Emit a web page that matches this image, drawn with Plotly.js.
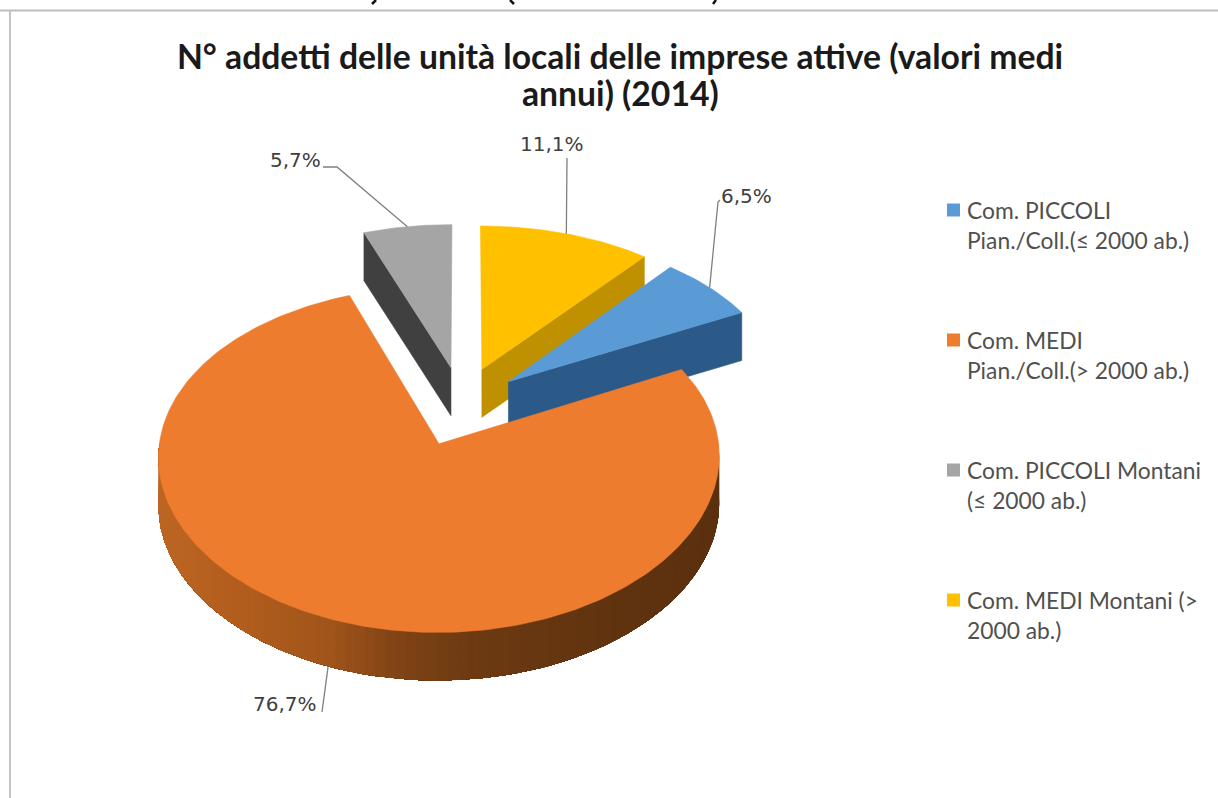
<!DOCTYPE html>
<html>
<head>
<meta charset="utf-8">
<title>N° addetti delle unità locali</title>
<script src="https://cdn.plot.ly/plotly-3.0.1.min.js"></script>
<style>
  html, body { margin: 0; padding: 0; background: #fff; overflow: hidden; }
  #chart { width: 1218px; height: 798px; }
</style>
</head>
<body>
<div id="chart"></div>
<script>
// Share of employees per municipality class, in the chart's slice order.
const categories = [
  ["Com. PICCOLI", "Pian./Coll.(≤ 2000 ab.)"],
  ["Com. MEDI", "Pian./Coll.(> 2000 ab.)"],
  ["Com. PICCOLI Montani", "(≤ 2000 ab.)"],
  ["Com. MEDI Montani (>", "2000 ab.)"]
];
const shares = [6.5, 76.7, 5.7, 11.1];
const shareLabels = ["6,5%", "76,7%", "5,7%", "11,1%"];
const topColors = ["#5b9bd5", "#ee7c2f", "#a5a5a5", "#ffc000"];
const sideColors = ["#2c5a88", "#9c5219", "#404040", "#bf9000"];
const titleLines = ["N° addetti delle unità locali delle imprese attive (valori medi", "annui) (2014)"];

// Pie rotation: the first slice starts right after the last one's share.
const firstSliceDeg = 40;

// Projection of the tilted disc on the page.
const C = {
  x: 461.5, y: 406, rx: 275, ry: 166,
  perspX: 0.075, perspY: 0.094,
  explodeU: 0.22, explodeV: 0.24, depth: 48
};

function project(u, v) {
  return [C.x + C.rx * u * (1 + C.perspX * v), C.y + C.ry * v * (1 + C.perspY * v)];
}
const rad = d => d * Math.PI / 180;

// Angular extent of every slice, clockwise from twelve o'clock.
const slices = [];
let cursor = firstSliceDeg;
shares.forEach((p, i) => {
  const sweep = p / 100 * 360;
  const mid = cursor + sweep / 2;
  slices.push({
    i, start: cursor, end: cursor + sweep, mid,
    cu: C.explodeU * Math.sin(rad(mid)),
    cv: -C.explodeV * Math.cos(rad(mid))
  });
  cursor += sweep;
});

const rimPoint = (s, a) => project(s.cu + Math.sin(rad(a)), s.cv - Math.cos(rad(a)));
const apexPoint = s => project(s.cu, s.cv);

function face(points, color, edge) {
  const closed = points.concat([points[0]]);
  return {
    type: "scatter", mode: "lines", fill: "toself", fillcolor: color,
    x: closed.map(p => p[0]), y: closed.map(p => p[1]),
    line: { color: color, width: edge },
    hoverinfo: "skip", showlegend: false
  };
}
const lowered = p => [p[0], p[1] + C.depth];

function arc(s, from, to, steps) {
  const pts = [];
  for (let k = 0; k <= steps; k++) pts.push(rimPoint(s, from + (to - from) * k / steps));
  return pts;
}

// Flat side showing one radial cut of a slice.
function cutFace(s, a) {
  const ap = apexPoint(s), e = rimPoint(s, a);
  return face([ap, e, lowered(e), lowered(ap)], sideColors[s.i], 0.6);
}

// Shading of the orange outer wall, dark towards the right of the page.
const rimStops = [
  [160, [189, 101, 35]], [250, [176, 92, 29]], [330, [160, 84, 26]],
  [400, [127, 67, 21]], [470, [109, 58, 18]], [600, [97, 52, 15]], [716, [91, 48, 15]]
];
function rimColor(x) {
  for (let k = 1; k < rimStops.length; k++) {
    if (x <= rimStops[k][0] || k === rimStops.length - 1) {
      const [x0, c0] = rimStops[k - 1], [x1, c1] = rimStops[k];
      const t = Math.max(0, Math.min(1, (x - x0) / (x1 - x0)));
      return "rgb(" + c0.map((c, j) => Math.round(c + (c1[j] - c) * t)).join(",") + ")";
    }
  }
}
// Wall strips are painted in order along the rim, each reaching under the
// next one so that no seam shows between them.
function rimFaces(s, from, to, steps) {
  const out = [];
  const ang = k => from + (to - from) * k / steps;
  for (let k = 0; k < steps; k++) {
    const strip = arc(s, ang(k), to, steps - k);
    const mid = rimPoint(s, ang(k + 0.5));
    out.push(face(strip.concat(strip.map(lowered).reverse()), rimColor(mid[0]), 0));
  }
  return out;
}
function topFace(s) {
  return face([apexPoint(s)].concat(arc(s, s.start, s.end, Math.ceil(s.end - s.start))), topColors[s.i], 0.6);
}

const [blue, orange, grey, yellow] = slices;
const traces = [
  cutFace(grey, grey.start), topFace(grey),
  cutFace(yellow, yellow.end), topFace(yellow),
  cutFace(blue, blue.end), topFace(blue),
  ...rimFaces(orange, 90, 270, 90), topFace(orange)
];

// Leader lines run from each slice's rim, at its middle angle, to its label.
const leaderColor = "#7f7f7f";
const leaderBends = [
  [[720, 200], [718, 202]],
  [[322, 712]],
  [[323, 167], [337, 167]],
  [[567, 158]]
];
slices.forEach((s, i) => {
  const rim = rimPoint(s, s.mid);
  const end = i === 1 ? lowered(rim) : rim;
  const pts = leaderBends[i].concat([end]);
  traces.push({
    type: "scatter", mode: "lines",
    x: pts.map(p => p[0]), y: pts.map(p => p[1]),
    line: { color: leaderColor, width: 1.3 },
    hoverinfo: "skip", showlegend: false
  });
});

// Legend: one swatch per class, spaced evenly down the right side.
const legendX = 953.5, legendTextX = 965, legendTop = 210, legendStep = 130, legendLine = 30;
traces.push({
  type: "scatter", mode: "markers",
  x: categories.map(() => legendX),
  y: categories.map((_, i) => legendTop + i * legendStep),
  marker: { symbol: "square", size: 13, color: topColors, line: { width: 0 } },
  hoverinfo: "skip", showlegend: false
});

const titleFont = { family: "Lato, sans-serif", size: 33.7, color: "#1a1a1a", weight: 700 };
const valueFont = { family: "DejaVu Sans, sans-serif", size: 20, color: "#404040" };
const legendFont = { family: "Lato, sans-serif", size: 22.8, color: "#505050" };
const labelSpots = [[746, 196], [285, 704], [295, 160], [552, 144]];

const annotations = [{
  text: titleLines[1], x: 620, y: 93, xref: "x", yref: "y", showarrow: false, font: titleFont
}];
shareLabels.forEach((t, i) => annotations.push({
  text: t, x: labelSpots[i][0], y: labelSpots[i][1], xref: "x", yref: "y",
  showarrow: false, font: valueFont
}));
categories.forEach((lines, i) => lines.forEach((t, j) => annotations.push({
  text: t, x: legendTextX, y: legendTop + i * legendStep + j * legendLine, xref: "x", yref: "y",
  xanchor: "left", showarrow: false, font: legendFont
})));

// Small dark strokes along the top edge, left over from the page heading above the frame.
const headingStrokes = [[376, 372], [510, 514], [716, 713]];
const strokeShapes = headingStrokes.map(([x0, x1]) => ({
  type: "line", xref: "x", yref: "y", x0: x0, x1: x1, y0: 0, y1: 4,
  line: { color: "#111111", width: 2.5 }
}));

const layout = {
  width: 1218, height: 798,
  margin: { l: 0, r: 0, t: 0, b: 0 },
  paper_bgcolor: "#ffffff", plot_bgcolor: "#ffffff",
  showlegend: false,
  title: {
    text: titleLines[0], font: titleFont,
    x: 620 / 1218, xanchor: "center", y: 1 - 57 / 798, yanchor: "middle"
  },
  xaxis: { range: [0, 1218], visible: false, fixedrange: true },
  yaxis: { range: [798, 0], visible: false, fixedrange: true },
  annotations: annotations,
  // Outer frame of the chart area: top and left edges.
  shapes: strokeShapes.concat([
    { type: "line", xref: "paper", yref: "paper", x0: 0.0, x1: 1, y0: 1 - 10.5 / 798, y1: 1 - 10.5 / 798,
      line: { color: "#bdbdbd", width: 2 } },
    { type: "line", xref: "paper", yref: "paper", x0: 10 / 1218, x1: 10 / 1218, y0: 0, y1: 1 - 10.5 / 798,
      line: { color: "#c4c4c4", width: 2 } }
  ])
};

Plotly.newPlot("chart", traces, layout, { displayModeBar: false, staticPlot: true });
</script>
</body>
</html>
